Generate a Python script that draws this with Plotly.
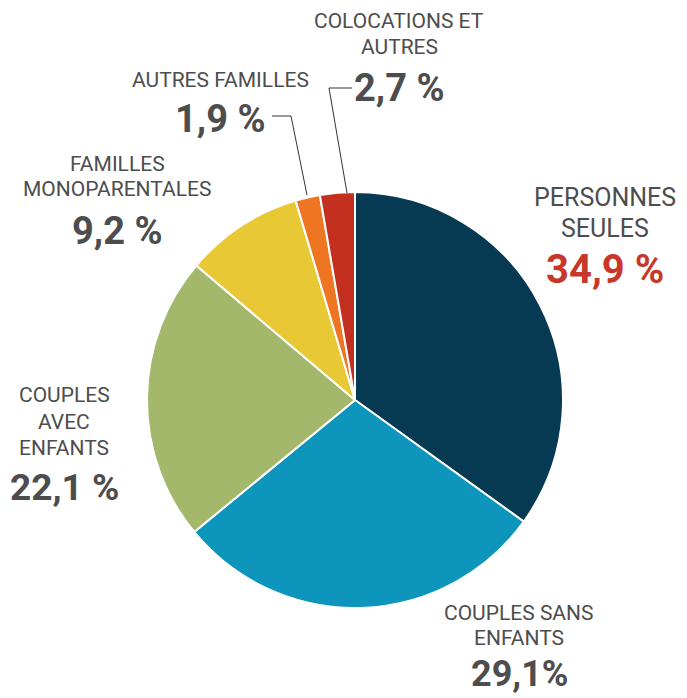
import plotly.graph_objects as go

categories = ["PERSONNES SEULES", "COUPLES SANS ENFANTS", "COUPLES AVEC ENFANTS",
              "FAMILLES MONOPARENTALES", "AUTRES FAMILLES", "COLOCATIONS ET AUTRES"]
values = [34.9, 29.1, 22.1, 9.2, 1.9, 2.7]
pct_labels = ["34,9 %", "29,1%", "22,1 %", "9,2 %", "1,9 %", "2,7 %"]
colors = ["#053A52", "#0E95BC", "#A3B86A", "#E8C935", "#EE7623", "#C4301F"]

# the page has an 8px body margin: positions below are in screen pixels,
# shifted back by OFF so they land where the reference has them
OFF = 8
W, H = 687, 698
FONT = "Roboto, Arial"
GREY = "#4D4D4D"


def px(x):
    return (x - OFF) / W


def py(y):
    return 1 - (y - OFF) / H


fig = go.Figure()
fig.add_trace(go.Pie(
    labels=categories, values=values, sort=False, direction="clockwise",
    rotation=0, marker=dict(colors=colors, line=dict(color="white", width=2)),
    textinfo="none", hoverinfo="label+value", showlegend=False,
    domain=dict(x=[px(147), px(563)], y=[py(608), py(192)])
))

# x center, y of first line, line gap, label size, percent y, percent colour, percent size
label_pos = [
    (605, 197, 32, 25, 269, "#C8382A", 40),
    (519, 613, 25, 21, 674, GREY, 36),
    (64, 395, 26.5, 21, 487, GREY, 37),
    (117, 164, 25, 21, 231, GREY, 38),
    (220, 80, 0, 21, 119, GREY, 38),
    (399, 21, 26, 21, 88, GREY, 38),
]
label_lines = [
    ["PERSONNES", "SEULES"],
    ["COUPLES SANS", "ENFANTS"],
    ["COUPLES", "AVEC", "ENFANTS"],
    ["FAMILLES", "MONOPARENTALES"],
    ["AUTRES FAMILLES"],
    ["COLOCATIONS ET", "AUTRES"],
]

for lines, pct, (cx, y0, gap, fs, yp, pcol, pfs) in zip(label_lines, pct_labels, label_pos):
    for i, t in enumerate(lines):
        fig.add_annotation(x=px(cx), y=py(y0 + i * gap), xref="paper", yref="paper",
                           text=t, showarrow=False, xanchor="center", yanchor="middle",
                           font=dict(family=FONT, size=fs, color=GREY))
    fig.add_annotation(x=px(cx), y=py(yp), xref="paper", yref="paper",
                       text="<b>" + pct + "</b>", showarrow=False, xanchor="center",
                       yanchor="middle", font=dict(family=FONT, size=pfs, color=pcol))

# leader lines
for pts in [[(272, 116), (291, 116), (307, 195)], [(352, 88), (329, 88), (347, 193)]]:
    path = "M " + " L ".join(f"{px(x)},{py(y)}" for x, y in pts)
    fig.add_shape(type="path", path=path, xref="paper", yref="paper",
                  line=dict(color="#333333", width=1))

fig.update_layout(width=W, height=H, margin=dict(l=0, r=0, t=0, b=0),
                  paper_bgcolor="white", plot_bgcolor="white")
fig.write_html("out.html")
